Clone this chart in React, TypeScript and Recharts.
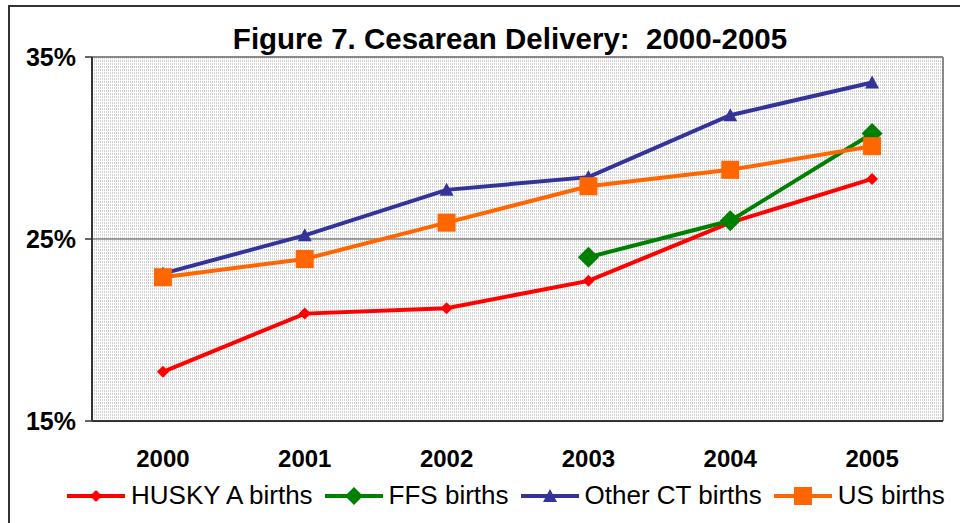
import React from 'react';
import { LineChart, Line, XAxis, YAxis, ReferenceLine, CartesianGrid } from 'recharts';

// values (percent)
const years = ['2000', '2001', '2002', '2003', '2004', '2005'];
const huskyA = [17.7, 20.9, 21.2, 22.7, 25.9, 28.3];
const ffs = [null, null, null, 24.0, 26.0, 30.8];
const otherCT = [23.1, 25.2, 27.7, 28.4, 31.8, 33.6];
const usBirths = [22.9, 23.9, 25.9, 27.9, 28.8, 30.1];
const yTicks = [15, 25, 35];
const boundaryTicks = [-0.5, 0.5, 1.5, 2.5, 3.5, 4.5, 5.5];
const yearTicks = [0, 1, 2, 3, 4, 5];

const FONT = '"Liberation Sans", Arial, sans-serif';

const data = years.map((y, i) => ({
  x: i,
  year: y,
  husky: huskyA[i],
  ffs: ffs[i],
  other: otherCT[i],
  us: usBirths[i],
}));

type MarkerKind = 'diamond' | 'triangle' | 'square';

function marker(kind: MarkerKind, cx: number, cy: number, size: number, color: string, key?: string | number) {
  const h = size / 2;
  if (kind === 'diamond') {
    return <path key={key} d={`M${cx},${cy - h}L${cx + h},${cy}L${cx},${cy + h}L${cx - h},${cy}Z`} fill={color} />;
  }
  if (kind === 'triangle') {
    return <path key={key} d={`M${cx},${cy - h}L${cx + h},${cy + h * 0.85}L${cx - h},${cy + h * 0.85}Z`} fill={color} />;
  }
  return <rect key={key} x={cx - h} y={cy - h} width={size} height={size} fill={color} />;
}

const series = [
  { key: 'husky', name: 'HUSKY A births', color: '#FF0000', kind: 'diamond' as MarkerKind, size: 12 },
  { key: 'ffs', name: 'FFS births', color: '#008000', kind: 'diamond' as MarkerKind, size: 21 },
  { key: 'other', name: 'Other CT births', color: '#333399', kind: 'triangle' as MarkerKind, size: 14 },
  { key: 'us', name: 'US births', color: '#FF6600', kind: 'square' as MarkerKind, size: 18 },
];

function ChartLegend() {
  return (
    <div style={{
      position: 'absolute', top: 480, left: 67, display: 'flex', alignItems: 'center',
      fontFamily: FONT, fontSize: 26, color: '#000', whiteSpace: 'nowrap',
    }}>
      {series.map(s => (
        <div key={s.key} style={{ display: 'flex', alignItems: 'center', marginRight: 12 }}>
          <svg width={58} height={24} style={{ marginRight: 6 }}>
            <line x1={0} y1={12} x2={58} y2={12} stroke={s.color} strokeWidth={4} />
            {marker(s.kind, 29, 12, Math.min(s.size, 18), s.color)}
          </svg>
          <span>{s.name}</span>
        </div>
      ))}
    </div>
  );
}

export default function App() {
  return (
    <div style={{ position: 'absolute', left: 0, top: 0, width: 960, height: 523, overflow: 'hidden', background: '#fff' }}>
      <div style={{
        position: 'absolute', left: 8, top: 5, width: 1000, height: 600,
        border: '2px solid #333', boxSizing: 'border-box',
      }} />
      <div style={{ position: 'absolute', left: 0, top: 0 }}>
        <LineChart width={960} height={523} data={data}
          margin={{ top: 57, right: 17, left: 0, bottom: 36 }}>
          <defs>
            <pattern id="dots" width={2} height={3} patternUnits="userSpaceOnUse">
              <rect width={2} height={3} fill="#ffffff" />
              <rect x={0} y={0} width={1} height={2} fill="#d2d2d2" />
            </pattern>
          </defs>
          <text x={510} y={49} textAnchor="middle" fontFamily={FONT} fontSize={29.5}
            fontWeight="bold" fill="#000" style={{ whiteSpace: 'pre' }}>
            {'Figure 7. Cesarean Delivery:  2000-2005'}
          </text>
          <CartesianGrid horizontal={false} vertical={false} fill="url(#dots)" fillOpacity={1} />
          <XAxis xAxisId="b" dataKey="x" type="number" domain={[-0.5, 5.5]} ticks={boundaryTicks}
            height={6} tickSize={7} tick={false} axisLine={{ stroke: '#333', strokeWidth: 2 }}
            tickLine={{ stroke: '#333', strokeWidth: 1.5 }} allowDataOverflow />
          <XAxis xAxisId="lab" dataKey="x" type="number" domain={[-0.5, 5.5]} ticks={yearTicks}
            height={60} tickSize={0} tickMargin={23} axisLine={false} tickLine={false}
            tickFormatter={(v: number) => years[v] ?? ''} interval={0}
            tick={{ fontFamily: FONT, fontSize: 24, fontWeight: 'bold', fill: '#000' }} />
          <YAxis domain={[15, 35]} ticks={yTicks} width={92} tickSize={7} tickMargin={9}
            tickFormatter={(v: number) => `${v}%`} interval={0}
            axisLine={{ stroke: '#333', strokeWidth: 2 }} tickLine={{ stroke: '#333', strokeWidth: 1.5 }}
            tick={{ fontFamily: FONT, fontSize: 25, fontWeight: 'bold', fill: '#000' }} />
          <ReferenceLine xAxisId="b" y={25} stroke="#444" strokeWidth={1.2} />
          <ReferenceLine xAxisId="b" y={35} stroke="#888" strokeWidth={2} />
          <ReferenceLine xAxisId="b" x={5.5} stroke="#888" strokeWidth={2} />
          {series.map(s => (
            <Line key={s.key} xAxisId="b" dataKey={s.key} name={s.name} stroke={s.color} strokeWidth={4}
              isAnimationActive={false} connectNulls={false} activeDot={false}
              dot={(p: any) => (p.cx == null || p.cy == null || p.value == null)
                ? <g key={p.index} />
                : marker(s.kind, p.cx, p.cy, s.size, s.color, p.index)} />
          ))}
        </LineChart>
      </div>
      <ChartLegend />
    </div>
  );
}
